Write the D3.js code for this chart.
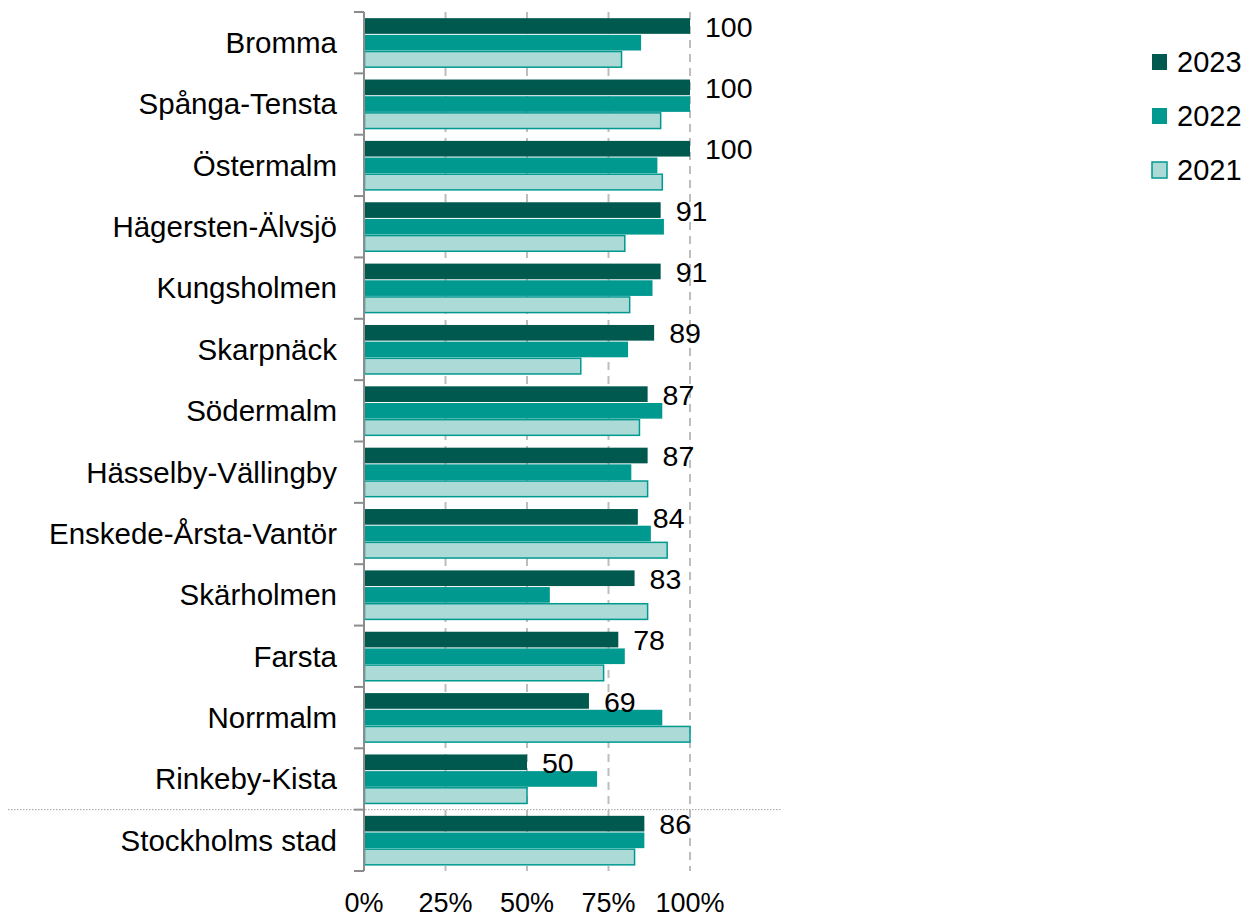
<!DOCTYPE html>
<html>
<head>
<meta charset="utf-8">
<script src="https://cdnjs.cloudflare.com/ajax/libs/d3/7.8.5/d3.min.js"></script>
<style>
  body { margin: 0; background: #fff; }
  svg text { font-family: "Liberation Sans", Arial, sans-serif; fill: #000; }
</style>
</head>
<body>
<div id="chart"></div>
<script>
// Districts, top to bottom
var districts = ["Bromma", "Spånga-Tensta", "Östermalm", "Hägersten-Älvsjö", "Kungsholmen",
  "Skarpnäck", "Södermalm", "Hässelby-Vällingby", "Enskede-Årsta-Vantör", "Skärholmen",
  "Farsta", "Norrmalm", "Rinkeby-Kista", "Stockholms stad"];

var years = ["2023", "2022", "2021"];

// Percent per district, one array per year
var values2023 = [100, 100, 100, 91, 91, 89, 87, 87, 84, 83, 78, 69, 50, 86];
var values2022 = [85, 100, 90, 92, 88.5, 81, 91.5, 82, 88, 57, 80, 91.5, 71.5, 86];
var values2021 = [79, 91, 91.5, 80, 81.5, 66.5, 84.5, 87, 93, 87, 73.5, 100, 50, 83];

var xTicks = [0, 25, 50, 75, 100];

var width = 1250, height = 918;
var svg = d3.select("#chart").append("svg")
  .attr("width", width)
  .attr("height", height);

// x scale: 0% sits on the axis line, 100% at the last gridline
var x = d3.scaleLinear().domain([0, 100]).range([364, 690]);

// y band for districts, inner band for the years
var y = d3.scaleBand().domain(districts).range([12, 871])
  .paddingInner(0.185).paddingOuter(0.0925);
var yInner = d3.scaleBand().domain(years).range([0, y.bandwidth()]);

var series = years.map(function(yr, i) {
  return { year: yr, values: [values2023, values2022, values2021][i] };
});

var fills = { "2023": "#00594f", "2022": "#009990", "2021": "#acdad6" };
var strokes = { "2023": "none", "2022": "none", "2021": "#009990" };

// dashed gridlines
svg.append("g").selectAll("line")
  .data(xTicks.slice(1))
  .enter().append("line")
  .attr("x1", function(d) { return x(d); })
  .attr("x2", function(d) { return x(d); })
  .attr("y1", 12)
  .attr("y2", 871)
  .attr("stroke", "#bdbdbd")
  .attr("stroke-width", 2)
  .attr("stroke-dasharray", "8,6");

// bars
var groups = svg.append("g").selectAll("g")
  .data(series)
  .enter().append("g");

groups.selectAll("rect")
  .data(function(s) {
    return s.values.map(function(v, i) { return { year: s.year, value: v, district: districts[i] }; });
  })
  .enter().append("rect")
  .attr("x", x(0) + 0.5)
  .attr("y", function(d) { return y(d.district) + yInner(d.year) + 0.5; })
  .attr("width", function(d) { return x(d.value) - x(0) - 0.5; })
  .attr("height", yInner.bandwidth() - 1)
  .attr("fill", function(d) { return fills[d.year]; })
  .attr("stroke", function(d) { return strokes[d.year]; })
  .attr("stroke-width", 1.5);

// value labels for 2023
svg.append("g").selectAll("text")
  .data(values2023)
  .enter().append("text")
  .attr("x", function(d) { return x(d) + 15; })
  .attr("y", function(d, i) { return y(districts[i]) + yInner("2023") + 19; })
  .style("font-size", "28.5px")
  .text(function(d) { return d; });

// y axis with ticks at the band boundaries
var yAxis = svg.append("g");
yAxis.append("line")
  .attr("x1", 364).attr("x2", 364)
  .attr("y1", 12).attr("y2", 871)
  .attr("stroke", "#8c8c8c").attr("stroke-width", 2);
var bounds = districts.map(function(d) { return y(d) - y.step() * y.paddingInner() / 2; });
bounds.push(871);
bounds[0] = 12;
yAxis.selectAll(".tk")
  .data(bounds)
  .enter().append("line")
  .attr("class", "tk")
  .attr("x1", 354).attr("x2", 364)
  .attr("y1", function(d) { return d; })
  .attr("y2", function(d) { return d; })
  .attr("stroke", "#8c8c8c").attr("stroke-width", 2);

yAxis.selectAll("text")
  .data(districts)
  .enter().append("text")
  .attr("x", 337)
  .attr("y", function(d) { return y(d) + y.bandwidth() / 2; })
  .attr("dy", "0.35em")
  .attr("text-anchor", "end")
  .style("font-size", "29.5px")
  .text(function(d) { return d; });

// x tick labels
svg.append("g").selectAll("text")
  .data(xTicks)
  .enter().append("text")
  .attr("x", function(d) { return x(d); })
  .attr("y", 912)
  .attr("text-anchor", "middle")
  .style("font-size", "27px")
  .text(function(d) { return d + "%"; });

// dotted separator above the city total
var sep = bounds[districts.length - 1];
svg.append("line")
  .attr("x1", 8).attr("x2", 782)
  .attr("y1", sep).attr("y2", sep)
  .attr("stroke", "#a0a0a0").attr("stroke-width", 1)
  .attr("stroke-dasharray", "1.5,1.5");

// legend
var legend = svg.append("g").selectAll("g")
  .data(years)
  .enter().append("g")
  .attr("transform", function(d, i) { return "translate(1152," + (54 + i * 54) + ")"; });
legend.append("rect")
  .attr("width", 15).attr("height", 16)
  .attr("fill", function(d) { return fills[d]; })
  .attr("stroke", function(d) { return strokes[d]; })
  .attr("stroke-width", 1.5);
legend.append("text")
  .attr("x", 25).attr("y", 8)
  .attr("dy", "0.36em")
  .style("font-size", "29px")
  .text(function(d) { return d; });
</script>
</body>
</html>
